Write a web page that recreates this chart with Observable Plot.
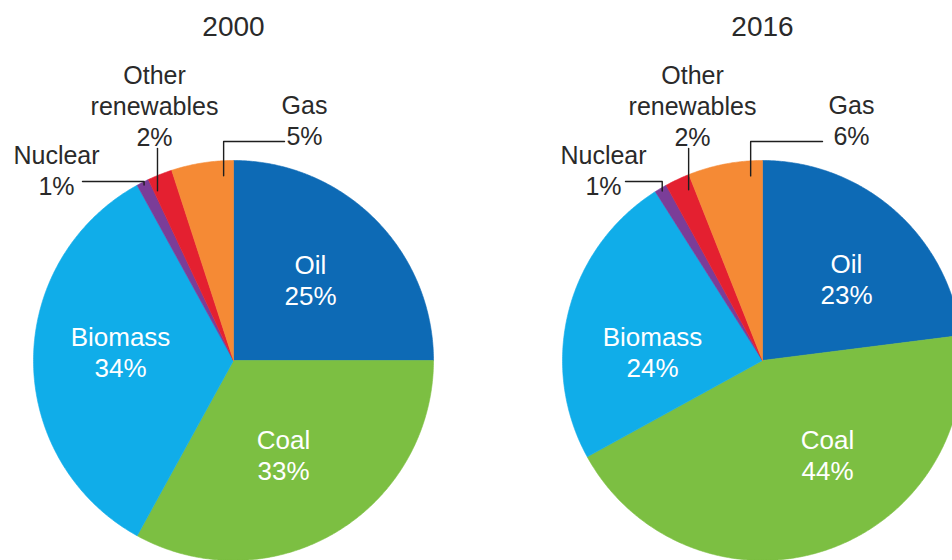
<!DOCTYPE html>
<html>
<head>
<meta charset="utf-8">
<script src="https://cdn.jsdelivr.net/npm/d3@7"></script>
<script src="https://cdn.jsdelivr.net/npm/@observablehq/plot@0.6"></script>
<style>
  html, body { margin: 0; padding: 0; background: #fff; overflow: hidden; }
  #chart { width: 952px; height: 560px; overflow: hidden; }
  #chart svg { overflow: hidden; }
</style>
</head>
<body>
<div id="chart"></div>
<script>
// ---------- data ----------
const years = ["2000", "2016"];
const categories = ["Oil", "Coal", "Biomass", "Nuclear", "Other renewables", "Gas"];
const share2000 = [25, 33, 34, 1, 2, 5];
const share2016 = [23, 44, 24, 1, 2, 6];
const labelLines = [["Oil"], ["Coal"], ["Biomass"], ["Nuclear"], ["Other", "renewables"], ["Gas"]];
const sliceColors = ["#0d6ab5", "#7cbf42", "#10ade9", "#7b3d98", "#e42030", "#f58a35"];
const insideLabel = [true, true, true, false, false, false];

// ---------- layout (radius units, relative to each pie centre) ----------
const pieCenterX = [0, 2.645];
const labelPos = [
  // Oil, Coal, Biomass, Nuclear, Other renewables, Gas
  [[0.385, 0.435], [0.25, -0.44], [-0.565, 0.075], [-0.885, 0.985], [-0.395, 1.385], [0.355, 1.235]],
  [[0.42, 0.44], [0.325, -0.44], [-0.55, 0.075], [-0.795, 0.985], [-0.35, 1.385], [0.445, 1.235]]
];
const leaderSpec = [
  {3: {kind: "elbow", from: -0.755, level: 0.895, frac: 0.5, r: 0.985},
   4: {kind: "drop", level: 1.06, frac: 0.15, r: 0.93},
   5: {kind: "elbow", from: 0.255, level: 1.095, frac: 0.83, r: 0.925}},
  {3: {kind: "elbow", from: -0.685, level: 0.895, frac: 0.5, r: 0.985},
   4: {kind: "drop", level: 1.06, frac: 0.75, r: 0.93},
   5: {kind: "elbow", from: 0.3, level: 1.095, frac: 0.83, r: 0.925}}
];
const titleY = 1.625;
const lineGap = 0.157;

// ---------- derived geometry ----------
const sharesByYear = [share2000, share2016];
const slicePts = [];
const textRows = [];
const leaderPts = [];

sharesByYear.forEach((shares, yi) => {
  const cx = pieCenterX[yi];
  const total = d3.sum(shares);
  let acc = 0;
  shares.forEach((v, ci) => {
    const a0 = acc / total * 2 * Math.PI;
    acc += v;
    const a1 = acc / total * 2 * Math.PI;
    const key = years[yi] + "-" + categories[ci];
    const n = Math.max(2, Math.ceil((a1 - a0) / (Math.PI / 360)));
    slicePts.push({key, x: cx, y: 0, color: sliceColors[ci]});
    for (let k = 0; k <= n; k++) {
      const a = a0 + (a1 - a0) * k / n;
      slicePts.push({key, x: cx + Math.sin(a), y: Math.cos(a), color: sliceColors[ci]});
    }
    slicePts.push({key, x: cx, y: 0, color: sliceColors[ci]});

    // labels
    const [lx, ly] = labelPos[yi][ci];
    const lines = [...labelLines[ci], v + "%"];
    lines.forEach((t, li) => {
      textRows.push({x: cx + lx, y: ly - li * lineGap, text: t, inside: insideLabel[ci]});
    });

    // leaders
    const spec = leaderSpec[yi][ci];
    if (spec) {
      const a = a0 + (a1 - a0) * spec.frac;
      const ax = cx + spec.r * Math.sin(a), ay = spec.r * Math.cos(a);
      const lk = key + "-leader";
      if (spec.kind === "elbow") {
        leaderPts.push({key: lk, x: cx + spec.from, y: spec.level});
        leaderPts.push({key: lk, x: ax, y: spec.level});
        leaderPts.push({key: lk, x: ax, y: ay});
      } else {
        leaderPts.push({key: lk, x: ax, y: spec.level});
        leaderPts.push({key: lk, x: ax, y: ay});
      }
    }
  });
});

const titles = years.map((t, i) => ({x: pieCenterX[i], y: titleY, text: t}));

const font = "'Liberation Sans', Arial, Helvetica, sans-serif";

const chart = Plot.plot({
  width: 952,
  height: 560,
  margin: 0,
  x: {domain: [-1.165, 3.595], axis: null},
  y: {domain: [-1, 1.8], axis: null},
  color: {type: "identity"},
  style: {fontFamily: font, background: "#fff"},
  marks: [
    Plot.line(slicePts, {x: "x", y: "y", z: "key", fill: "color", stroke: "color", strokeWidth: 0.6, curve: "linear", clip: true}),
    Plot.line(leaderPts, {x: "x", y: "y", z: "key", stroke: "#1e1e1e", strokeWidth: 1.4, curve: "linear"}),
    Plot.text(textRows.filter(d => d.inside), {x: "x", y: "y", text: "text", fill: "#ffffff", fontSize: 26, textAnchor: "middle", lineAnchor: "bottom"}),
    Plot.text(textRows.filter(d => !d.inside), {x: "x", y: "y", text: "text", fill: "#2a2a2a", fontSize: 25, textAnchor: "middle", lineAnchor: "bottom"}),
    Plot.text(titles, {x: "x", y: "y", text: "text", fill: "#2a2a2a", fontSize: 28, textAnchor: "middle", lineAnchor: "bottom"})
  ]
});
document.getElementById("chart").appendChild(chart);
</script>
</body>
</html>
